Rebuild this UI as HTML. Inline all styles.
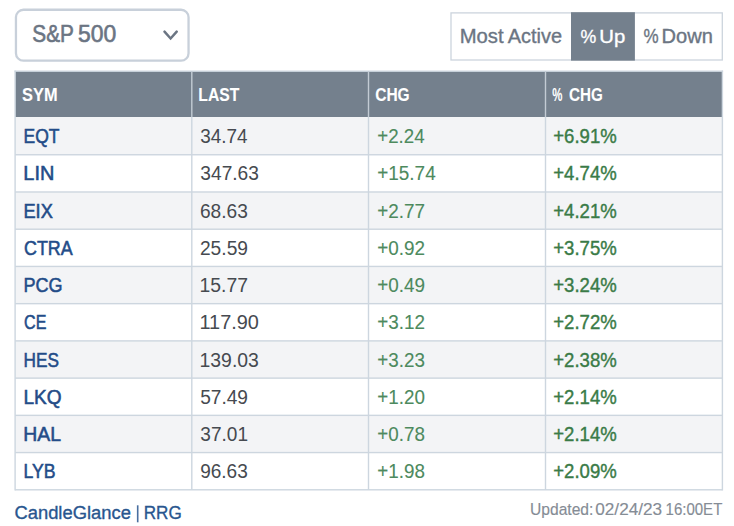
<!DOCTYPE html>
<html><head><meta charset="utf-8">
<style>
*{margin:0;padding:0}
html,body{width:734px;height:526px;background:#fff;overflow:hidden}
svg{position:absolute;left:0;top:0;font-family:"Liberation Sans",sans-serif}
</style></head><body>
<svg width="734" height="526" viewBox="0 0 734 526">
<rect x="15.95" y="9.75" width="172.6" height="50.9" rx="7.5" ry="7.5" fill="#fff" stroke="#c8d0da" stroke-width="2.3"/>
<path d="M164.5 31.7 L170.6 38.5 L176.7 31.7" fill="none" stroke="#6b7583" stroke-width="2.5" stroke-linecap="round" stroke-linejoin="miter"/>
<rect x="451.0" y="12.9" width="271.3" height="47.1" fill="#fff" stroke="#ccd4dd" stroke-width="1.3"/>
<rect x="136.9" y="505.3" width="1.6" height="17.0" fill="#29568f" fill-opacity="0.85"/>
<rect x="571.0" y="12.2" width="63.9" height="48.45" fill="#74808d"/>
<rect x="15.2" y="71.2" width="707.20" height="45.80" fill="#74808d"/>
<rect x="15.2" y="117.00" width="707.20" height="37.75" fill="#f3f4f6"/>
<rect x="15.2" y="191.98" width="707.20" height="37.23" fill="#f3f4f6"/>
<rect x="15.2" y="266.43" width="707.20" height="37.23" fill="#f3f4f6"/>
<rect x="15.2" y="340.89" width="707.20" height="37.23" fill="#f3f4f6"/>
<rect x="15.2" y="415.35" width="707.20" height="37.23" fill="#f3f4f6"/>
<rect x="15.2" y="154.05" width="707.20" height="1.4" fill="#cdd6df"/>
<rect x="15.2" y="191.28" width="707.20" height="1.4" fill="#cdd6df"/>
<rect x="15.2" y="228.51" width="707.20" height="1.4" fill="#cdd6df"/>
<rect x="15.2" y="265.73" width="707.20" height="1.4" fill="#cdd6df"/>
<rect x="15.2" y="302.96" width="707.20" height="1.4" fill="#cdd6df"/>
<rect x="15.2" y="340.19" width="707.20" height="1.4" fill="#cdd6df"/>
<rect x="15.2" y="377.42" width="707.20" height="1.4" fill="#cdd6df"/>
<rect x="15.2" y="414.65" width="707.20" height="1.4" fill="#cdd6df"/>
<rect x="15.2" y="451.87" width="707.20" height="1.4" fill="#cdd6df"/>
<rect x="15.2" y="489.10" width="707.20" height="1.4" fill="#cdd6df"/>
<rect x="14.50" y="70.50" width="708.60" height="1.4" fill="#cdd6df"/>
<rect x="14.40" y="70.50" width="1.4" height="420.00" fill="#cdd6df"/>
<rect x="191.10" y="71.2" width="1.4" height="45.80" fill="#c3cbd4"/>
<rect x="191.10" y="117.0" width="1.4" height="372.80" fill="#cdd6df"/>
<rect x="367.80" y="71.2" width="1.4" height="45.80" fill="#c3cbd4"/>
<rect x="367.80" y="117.0" width="1.4" height="372.80" fill="#cdd6df"/>
<rect x="544.80" y="71.2" width="1.4" height="45.80" fill="#c3cbd4"/>
<rect x="544.80" y="117.0" width="1.4" height="372.80" fill="#cdd6df"/>
<rect x="721.70" y="70.50" width="1.4" height="420.00" fill="#cdd6df"/>
<text x="32.27" y="41.70" font-size="23.48" font-weight="normal" fill="#6b7583" stroke="#6b7583" stroke-width="0.6" textLength="41.61" lengthAdjust="spacingAndGlyphs">S&amp;P</text>
<text x="77.98" y="41.70" font-size="23.48" font-weight="normal" fill="#6b7583" stroke="#6b7583" stroke-width="0.6" textLength="38.25" lengthAdjust="spacingAndGlyphs">500</text>
<text x="459.68" y="43.00" font-size="19.57" font-weight="normal" fill="#6b7583" stroke="#6b7583" stroke-width="0.35" textLength="43.88" lengthAdjust="spacingAndGlyphs">Most</text>
<text x="507.70" y="43.00" font-size="19.57" font-weight="normal" fill="#6b7583" stroke="#6b7583" stroke-width="0.35" textLength="54.32" lengthAdjust="spacingAndGlyphs">Active</text>
<text x="580.47" y="42.80" font-size="19.13" font-weight="normal" fill="#ffffff" stroke="#ffffff" stroke-width="0.35" textLength="15.75" lengthAdjust="spacingAndGlyphs">%</text>
<text x="599.28" y="42.80" font-size="19.13" font-weight="normal" fill="#ffffff" stroke="#ffffff" stroke-width="0.35" textLength="25.96" lengthAdjust="spacingAndGlyphs">Up</text>
<text x="643.49" y="43.00" font-size="19.42" font-weight="normal" fill="#6b7583" stroke="#6b7583" stroke-width="0.35" textLength="15.11" lengthAdjust="spacingAndGlyphs">%</text>
<text x="661.59" y="43.00" font-size="19.42" font-weight="normal" fill="#6b7583" stroke="#6b7583" stroke-width="0.35" textLength="51.33" lengthAdjust="spacingAndGlyphs">Down</text>
<text x="22.07" y="100.60" font-size="19.00" font-weight="bold" fill="#ffffff" stroke="#ffffff" stroke-width="0.1" textLength="35.46" lengthAdjust="spacingAndGlyphs">SYM</text>
<text x="198.36" y="100.60" font-size="19.00" font-weight="bold" fill="#ffffff" stroke="#ffffff" stroke-width="0.1" textLength="40.95" lengthAdjust="spacingAndGlyphs">LAST</text>
<text x="375.18" y="100.60" font-size="19.00" font-weight="bold" fill="#ffffff" stroke="#ffffff" stroke-width="0.1" textLength="34.52" lengthAdjust="spacingAndGlyphs">CHG</text>
<text x="552.27" y="100.60" font-size="18.57" font-weight="bold" fill="#ffffff" stroke="#ffffff" stroke-width="0.1" textLength="10.15" lengthAdjust="spacingAndGlyphs">%</text>
<text x="569.09" y="100.60" font-size="19.00" font-weight="bold" fill="#ffffff" stroke="#ffffff" stroke-width="0.1" textLength="33.79" lengthAdjust="spacingAndGlyphs">CHG</text>
<text x="23.50" y="143.15" font-size="19.93" font-weight="normal" fill="#234c88" stroke="#234c88" stroke-width="0.55" textLength="35.96" lengthAdjust="spacingAndGlyphs">EQT</text>
<text x="200.33" y="143.15" font-size="19.93" font-weight="normal" fill="#464a50" textLength="47.26" lengthAdjust="spacingAndGlyphs">34.74</text>
<text x="377.25" y="143.15" font-size="19.93" font-weight="normal" fill="#4d8a5e" stroke="#4d8a5e" stroke-width="0.1" textLength="47.44" lengthAdjust="spacingAndGlyphs">+2.24</text>
<text x="553.26" y="143.15" font-size="19.93" font-weight="normal" fill="#3a7b47" stroke="#3a7b47" stroke-width="0.4" textLength="63.48" lengthAdjust="spacingAndGlyphs">+6.91%</text>
<text x="23.30" y="180.38" font-size="19.93" font-weight="normal" fill="#234c88" stroke="#234c88" stroke-width="0.55" textLength="31.03" lengthAdjust="spacingAndGlyphs">LIN</text>
<text x="200.33" y="180.38" font-size="19.93" font-weight="normal" fill="#464a50" textLength="58.57" lengthAdjust="spacingAndGlyphs">347.63</text>
<text x="377.24" y="180.38" font-size="19.93" font-weight="normal" fill="#4d8a5e" stroke="#4d8a5e" stroke-width="0.1" textLength="58.45" lengthAdjust="spacingAndGlyphs">+15.74</text>
<text x="553.26" y="180.38" font-size="19.93" font-weight="normal" fill="#3a7b47" stroke="#3a7b47" stroke-width="0.4" textLength="63.48" lengthAdjust="spacingAndGlyphs">+4.74%</text>
<text x="23.44" y="217.61" font-size="19.93" font-weight="normal" fill="#234c88" stroke="#234c88" stroke-width="0.55" textLength="29.37" lengthAdjust="spacingAndGlyphs">EIX</text>
<text x="199.94" y="217.61" font-size="19.93" font-weight="normal" fill="#464a50" textLength="47.85" lengthAdjust="spacingAndGlyphs">68.63</text>
<text x="377.24" y="217.61" font-size="19.93" font-weight="normal" fill="#4d8a5e" stroke="#4d8a5e" stroke-width="0.1" textLength="47.83" lengthAdjust="spacingAndGlyphs">+2.77</text>
<text x="553.26" y="217.61" font-size="19.93" font-weight="normal" fill="#3a7b47" stroke="#3a7b47" stroke-width="0.4" textLength="63.48" lengthAdjust="spacingAndGlyphs">+4.21%</text>
<text x="24.01" y="254.84" font-size="19.93" font-weight="normal" fill="#234c88" stroke="#234c88" stroke-width="0.55" textLength="48.64" lengthAdjust="spacingAndGlyphs">CTRA</text>
<text x="199.94" y="254.84" font-size="19.93" font-weight="normal" fill="#464a50" textLength="48.05" lengthAdjust="spacingAndGlyphs">25.59</text>
<text x="377.24" y="254.84" font-size="19.93" font-weight="normal" fill="#4d8a5e" stroke="#4d8a5e" stroke-width="0.1" textLength="47.83" lengthAdjust="spacingAndGlyphs">+0.92</text>
<text x="553.26" y="254.84" font-size="19.93" font-weight="normal" fill="#3a7b47" stroke="#3a7b47" stroke-width="0.4" textLength="63.48" lengthAdjust="spacingAndGlyphs">+3.75%</text>
<text x="23.46" y="292.07" font-size="19.93" font-weight="normal" fill="#234c88" stroke="#234c88" stroke-width="0.55" textLength="39.07" lengthAdjust="spacingAndGlyphs">PCG</text>
<text x="199.54" y="292.07" font-size="19.93" font-weight="normal" fill="#464a50" textLength="48.45" lengthAdjust="spacingAndGlyphs">15.77</text>
<text x="377.24" y="292.07" font-size="19.93" font-weight="normal" fill="#4d8a5e" stroke="#4d8a5e" stroke-width="0.1" textLength="47.83" lengthAdjust="spacingAndGlyphs">+0.49</text>
<text x="553.26" y="292.07" font-size="19.93" font-weight="normal" fill="#3a7b47" stroke="#3a7b47" stroke-width="0.4" textLength="63.48" lengthAdjust="spacingAndGlyphs">+3.24%</text>
<text x="24.10" y="329.30" font-size="19.93" font-weight="normal" fill="#234c88" stroke="#234c88" stroke-width="0.55" textLength="22.30" lengthAdjust="spacingAndGlyphs">CE</text>
<text x="199.51" y="329.30" font-size="19.93" font-weight="normal" fill="#464a50" textLength="59.41" lengthAdjust="spacingAndGlyphs">117.90</text>
<text x="377.24" y="329.30" font-size="19.93" font-weight="normal" fill="#4d8a5e" stroke="#4d8a5e" stroke-width="0.1" textLength="47.83" lengthAdjust="spacingAndGlyphs">+3.12</text>
<text x="553.26" y="329.30" font-size="19.93" font-weight="normal" fill="#3a7b47" stroke="#3a7b47" stroke-width="0.4" textLength="63.48" lengthAdjust="spacingAndGlyphs">+2.72%</text>
<text x="23.52" y="366.53" font-size="19.93" font-weight="normal" fill="#234c88" stroke="#234c88" stroke-width="0.55" textLength="35.42" lengthAdjust="spacingAndGlyphs">HES</text>
<text x="199.54" y="366.53" font-size="19.93" font-weight="normal" fill="#464a50" textLength="59.36" lengthAdjust="spacingAndGlyphs">139.03</text>
<text x="377.25" y="366.53" font-size="19.93" font-weight="normal" fill="#4d8a5e" stroke="#4d8a5e" stroke-width="0.1" textLength="47.63" lengthAdjust="spacingAndGlyphs">+3.23</text>
<text x="553.26" y="366.53" font-size="19.93" font-weight="normal" fill="#3a7b47" stroke="#3a7b47" stroke-width="0.4" textLength="63.48" lengthAdjust="spacingAndGlyphs">+2.38%</text>
<text x="23.38" y="403.76" font-size="19.93" font-weight="normal" fill="#234c88" stroke="#234c88" stroke-width="0.55" textLength="38.14" lengthAdjust="spacingAndGlyphs">LKQ</text>
<text x="200.14" y="403.76" font-size="19.93" font-weight="normal" fill="#464a50" textLength="47.85" lengthAdjust="spacingAndGlyphs">57.49</text>
<text x="377.25" y="403.76" font-size="19.93" font-weight="normal" fill="#4d8a5e" stroke="#4d8a5e" stroke-width="0.1" textLength="47.63" lengthAdjust="spacingAndGlyphs">+1.20</text>
<text x="553.26" y="403.76" font-size="19.93" font-weight="normal" fill="#3a7b47" stroke="#3a7b47" stroke-width="0.4" textLength="63.48" lengthAdjust="spacingAndGlyphs">+2.14%</text>
<text x="23.35" y="440.99" font-size="19.93" font-weight="normal" fill="#234c88" stroke="#234c88" stroke-width="0.55" textLength="37.76" lengthAdjust="spacingAndGlyphs">HAL</text>
<text x="200.33" y="440.99" font-size="19.93" font-weight="normal" fill="#464a50" textLength="47.65" lengthAdjust="spacingAndGlyphs">37.01</text>
<text x="377.25" y="440.99" font-size="19.93" font-weight="normal" fill="#4d8a5e" stroke="#4d8a5e" stroke-width="0.1" textLength="47.63" lengthAdjust="spacingAndGlyphs">+0.78</text>
<text x="553.26" y="440.99" font-size="19.93" font-weight="normal" fill="#3a7b47" stroke="#3a7b47" stroke-width="0.4" textLength="63.48" lengthAdjust="spacingAndGlyphs">+2.14%</text>
<text x="23.49" y="478.22" font-size="19.93" font-weight="normal" fill="#234c88" stroke="#234c88" stroke-width="0.55" textLength="32.04" lengthAdjust="spacingAndGlyphs">LYB</text>
<text x="200.14" y="478.22" font-size="19.93" font-weight="normal" fill="#464a50" textLength="47.65" lengthAdjust="spacingAndGlyphs">96.63</text>
<text x="377.25" y="478.22" font-size="19.93" font-weight="normal" fill="#4d8a5e" stroke="#4d8a5e" stroke-width="0.1" textLength="47.63" lengthAdjust="spacingAndGlyphs">+1.98</text>
<text x="553.26" y="478.22" font-size="19.93" font-weight="normal" fill="#3a7b47" stroke="#3a7b47" stroke-width="0.4" textLength="63.48" lengthAdjust="spacingAndGlyphs">+2.09%</text>
<text x="14.48" y="518.70" font-size="18.99" font-weight="normal" fill="#29568f" stroke="#29568f" stroke-width="0.35" textLength="116.38" lengthAdjust="spacingAndGlyphs">CandleGlance</text>
<text x="143.73" y="518.70" font-size="18.84" font-weight="normal" fill="#29568f" stroke="#29568f" stroke-width="0.35" textLength="38.03" lengthAdjust="spacingAndGlyphs">RRG</text>
<text x="530.01" y="514.60" font-size="16.81" font-weight="normal" fill="#858c95" stroke="#858c95" stroke-width="0.15" textLength="63.36" lengthAdjust="spacingAndGlyphs">Updated:</text>
<text x="595.28" y="514.60" font-size="16.81" font-weight="normal" fill="#858c95" stroke="#858c95" stroke-width="0.15" textLength="66.84" lengthAdjust="spacingAndGlyphs">02/24/23</text>
<text x="665.55" y="514.60" font-size="16.81" font-weight="normal" fill="#858c95" stroke="#858c95" stroke-width="0.15" textLength="56.76" lengthAdjust="spacingAndGlyphs">16:00ET</text>
</svg>
</body></html>
